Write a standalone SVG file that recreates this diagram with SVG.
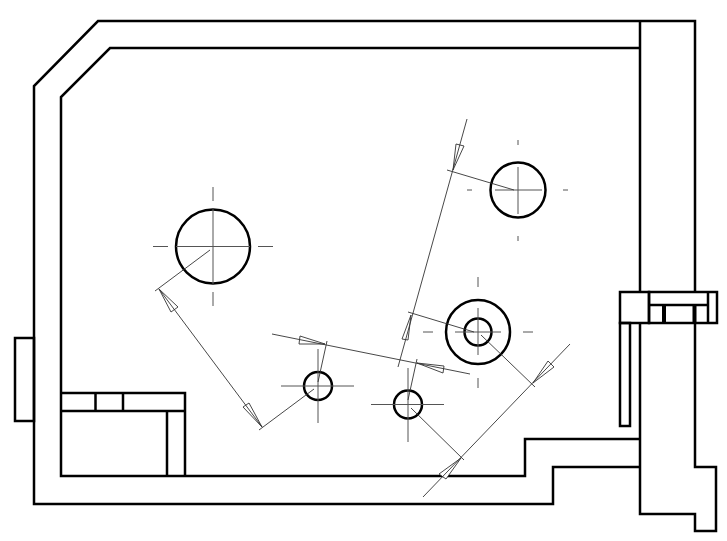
<svg xmlns="http://www.w3.org/2000/svg" width="727" height="541" viewBox="0 0 727 541">
<style>
.w{fill:none;stroke:#000;stroke-width:2.500;stroke-linejoin:miter}
.f{fill:#000;stroke:none}
.c{fill:none;stroke:#555;stroke-width:1}
.d{fill:none;stroke:#333;stroke-width:0.900}
.a{fill:#fff;stroke:#333;stroke-width:0.900}
</style>
<rect width="727" height="541" fill="#fff"/>
<g id="walls">
<path class="w" d="M640 292V21H98L34 86V504H553V467H640M640 323V514H695V531H716V467H695V323M695 292V21H640"/>
<path class="w" d="M640 48H110L61 97V476H525V439H640"/>
<rect class="w" x="15" y="338" width="19" height="83"/>
</g>
<g id="bench">
<path class="w" d="M61 393H185V476M61 411H185M167 411V476M95.500 393V411M123 393V411"/>
</g>
<g id="window">
<rect class="w" x="620" y="292" width="29" height="31"/>
<rect class="w" x="649" y="292" width="68" height="31"/>
<path class="w" d="M649 305H708M708 292V323"/>
<rect class="f" x="662" y="305" width="4" height="18"/>
<rect class="f" x="692.500" y="305" width="4" height="18"/>
<rect class="w" x="620" y="323" width="10" height="103"/>
</g>
<g id="hole-1">
<circle class="w" cx="213" cy="246.500" r="37"/>
<path class="c" d="M153 246.500H168M176 246.500H250M258 246.500H273M213 187V201M213 209V284M213 292V306"/>
</g>
<g id="hole-2">
<circle class="w" cx="518" cy="190" r="27.500"/>
<path class="c" d="M467 190H472M495 190H542M563 190H568M518 140V145M518 167V214M518 236V241"/>
</g>
<g id="hole-3">
<circle class="w" cx="478" cy="332" r="32"/>
<circle class="w" cx="478" cy="332" r="13.500"/>
<path class="c" d="M423 332H433M455 332H501M523 332H533M478 277V287M478 308V355M478 378V388"/>
</g>
<g id="hole-4">
<circle class="w" cx="318" cy="386" r="14"/>
<path class="c" d="M281 386H354M318 349V423"/>
</g>
<g id="hole-5">
<circle class="w" cx="408" cy="404.500" r="14"/>
<path class="c" d="M371 404.500H444M408 368V442"/>
</g>
<g id="connectors">
<path class="a" d="M159 289L178 307L171 312ZM262 427L243 407L249 403Z"/>
<path class="d" d="M210 250L155 291M314 389L259 430M159 289L262 427"/>
<path class="a" d="M325 344L300 336L299 344ZM417 363L444 366L443 373Z"/>
<path class="d" d="M318 382L327 341M408 400L417 359M272 334L470 374"/>
<path class="a" d="M453 170L456 144L464 146ZM411 315L402 339L408 340Z"/>
<path class="d" d="M447 170L514 190M408 312L474 332M467 119L398 367"/>
<path class="a" d="M533 383L548 361L554 367ZM461 458L439 474L446 479Z"/>
<path class="d" d="M481 335L535 387M411 408L464 460M570 344L423 497"/>
</g>
</svg>
